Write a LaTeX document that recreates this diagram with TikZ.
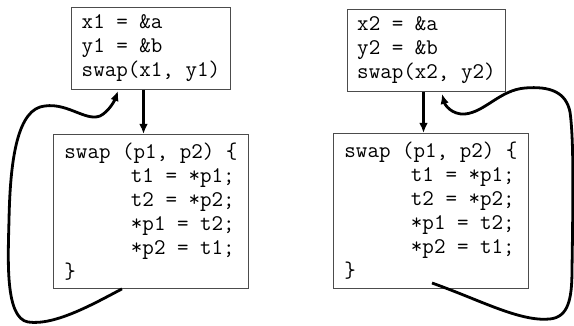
\documentclass[tikz,border=0pt]{standalone}
\usepackage{fontspec}
\usetikzlibrary{arrows.meta,calc}
\tikzset{
  codebox/.style={draw=black!70, line width=0.9pt, inner sep=0pt, align=left,
    font=\ttfamily\fontsize{22.4}{24}\selectfont, anchor=north west},
  callarrow/.style={draw=black, line width=2.9pt, -{Latex[length=10pt,width=8.5pt]}},
  retloop/.style={draw=black, line width=2.8pt, -{Latex[length=10pt,width=8.5pt]}}
}
\newcommand{\ind}{\hspace*{66.5pt}}
\begin{document}
\begin{tikzpicture}[x=1pt,y=-1pt]
\useasboundingbox (0,0) rectangle (574,326);
% left
\node[codebox, minimum width=159pt, minimum height=82pt] (top1) at (71,7)
  {x1 = \&a\\y1 = \&b\\swap(x1, y1)};
\node[codebox, minimum width=195pt, minimum height=154pt] (bot1) at (53,134)
  {swap (p1, p2) \{\\\ind t1 = *p1;\\\ind t2 = *p2;\\\ind *p1 = t2;\\\ind *p2 = t1;\\\}};
% right
\node[codebox, minimum width=158pt, minimum height=82pt] (top2) at (347,9)
  {x2 = \&a\\y2 = \&b\\swap(x2, y2)};
\node[codebox, minimum width=195pt, minimum height=155pt] (bot2) at (333,133)
  {swap (p1, p2) \{\\\ind t1 = *p1;\\\ind t2 = *p2;\\\ind *p1 = t2;\\\ind *p2 = t1;\\\}};
% anchor columns
\coordinate (a1) at (143.5,0);
\coordinate (a2) at (423.5,0);
\coordinate (l1) at (122,0);
\coordinate (r1) at (118,0);
\coordinate (s2) at (432,283);
\coordinate (r2) at (442,0);
% call arrows
\draw[callarrow] (top1.south -| a1) -- (bot1.north -| a1);
\draw[callarrow] (top2.south -| a2) -- (bot2.north -| a2);
% return loops
\draw[retloop] (bot1.south -| l1)
  .. controls (95,303) and (55,326) .. (28,322)
  .. controls (5,318) and (8,260) .. (9,220)
  .. controls (10,170) and (15,115) .. (40,107)
  .. controls (65,100) and (85,122) .. (100,116)
  .. controls (108,112) and (114,102) .. ($(top1.south -| r1)+(0,1)$);
\draw[retloop] (s2)
  .. controls (480,300) and (520,322) .. (550,319)
  .. controls (568,317) and (572,300) .. (572,270)
  .. controls (573,200) and (574,140) .. (570,112)
  .. controls (566,92) and (550,86) .. (525,88)
  .. controls (500,90) and (485,112) .. (465,114)
  .. controls (452,115) and (445,105) .. ($(top2.south -| r2)+(0,2)$);
\end{tikzpicture}
\end{document}
